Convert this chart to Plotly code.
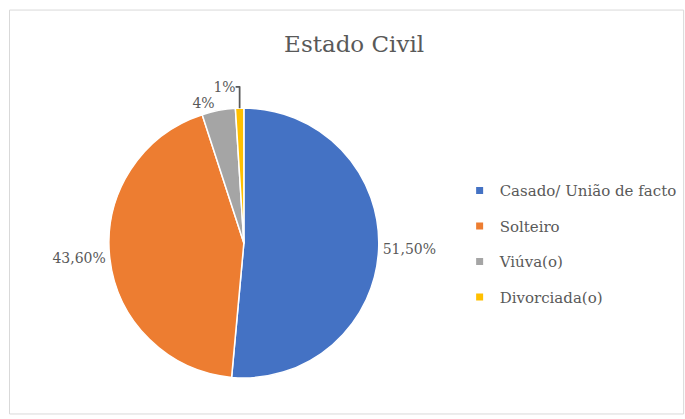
import plotly.graph_objects as go

categories = ["Casado/ União de facto", "Solteiro", "Viúva(o)", "Divorciada(o)"]
values = [51.5, 43.6, 4, 1]
value_labels = ["51,50%", "43,60%", "4%", "1%"]
colors = ["#4472C4", "#ED7D31", "#A5A5A5", "#FFC000"]

FONT = "DejaVu Serif"
GREY = "#595959"

fig = go.Figure()
fig.add_trace(go.Pie(
    labels=categories,
    values=values,
    text=value_labels,
    textinfo="text",
    textposition="outside",
    sort=False,
    direction="clockwise",
    rotation=0,
    marker=dict(colors=colors, line=dict(color="white", width=1.5)),
    textfont=dict(family=FONT, size=14, color=GREY),
    showlegend=False,
    domain=dict(x=[0.0, 0.712], y=[0.098, 0.742]),
    hole=0,
))

for cat, col in zip(categories, colors):
    fig.add_trace(go.Scatter(
        x=[None], y=[None], mode="markers", name=cat, legendgroup=cat,
        marker=dict(symbol="square", size=7, color=col),
        showlegend=True,
    ))

fig.update_layout(
    width=685, height=419,
    margin=dict(l=0, r=0, t=0, b=0, autoexpand=False),
    paper_bgcolor="white",
    plot_bgcolor="white",
    xaxis=dict(visible=False),
    yaxis=dict(visible=False),
    title=dict(text="Estado Civil", x=0.517, xanchor="center", y=0.895, yanchor="middle",
               font=dict(family=FONT, size=23, color=GREY)),
    legend=dict(x=0.671, xanchor="left", y=0.418, yanchor="middle",
                traceorder="grouped", tracegroupgap=13,
                font=dict(family=FONT, size=15, color=GREY),
                bgcolor="rgba(0,0,0,0)"),
    shapes=[dict(type="rect", xref="paper", yref="paper", x0=0.0139, x1=0.998, y0=0.012, y1=0.976,
                 line=dict(color="#D9D9D9", width=1), fillcolor="rgba(0,0,0,0)", layer="below")],
)

fig.write_html("out.html")
